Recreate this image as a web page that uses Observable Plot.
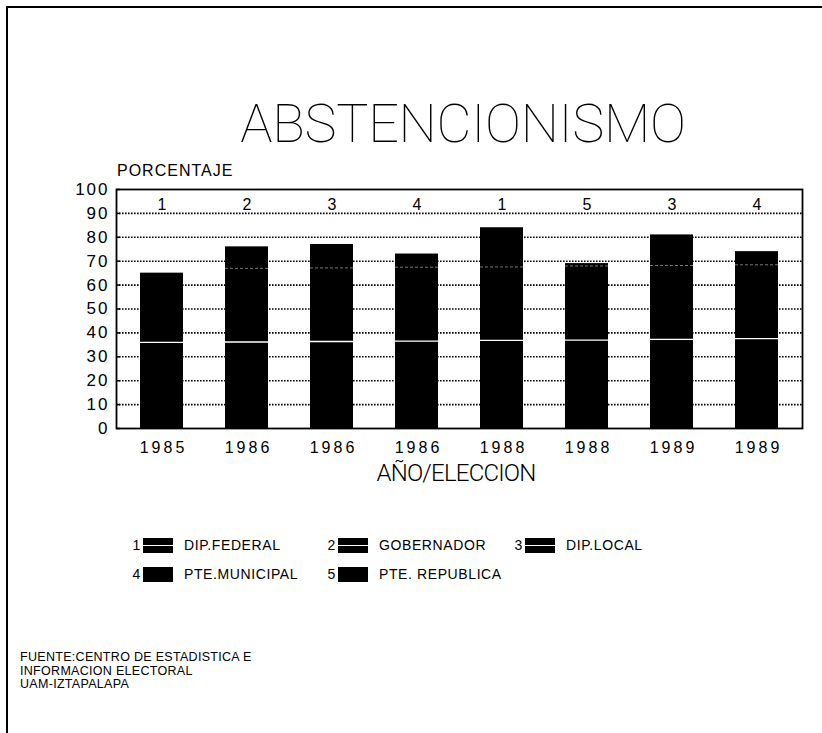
<!DOCTYPE html>
<html>
<head>
<meta charset="utf-8">
<script src="https://cdn.jsdelivr.net/npm/d3@7"></script>
<script src="https://cdn.jsdelivr.net/npm/@observablehq/plot@0.6"></script>
<style>
  html, body { margin: 0; padding: 0; background: #fff; }
  #page { position: relative; width: 822px; height: 733px; overflow: hidden; background: #fff; font-family: "Liberation Sans", "DejaVu Sans", sans-serif; color: #000; }
  #border { position: absolute; left: 6px; top: 6px; right: -4px; bottom: -4px; border-top: 2px solid #000; border-left: 2px solid #000; }
  #chart { position: absolute; left: 0; top: 0; }
  .abs { position: absolute; white-space: nowrap; }
  #title { left: 233px; width: 460px; top: 94px; text-align: center; font-family: Roboto, sans-serif; font-weight: 100; font-size: 54px; line-height: 60px; letter-spacing: -0.3px; }
  #ylab { left: 117px; top: 162px; font-size: 16px; letter-spacing: 1px; }
  #xlab { left: 354px; width: 204px; top: 461px; text-align: center; font-family: Roboto, sans-serif; font-weight: 300; font-size: 24px; line-height: 24px; letter-spacing: -0.8px; }
  .leg { position: absolute; font-size: 14px; letter-spacing: 0.6px; display: flex; align-items: center; }
  .leg .n { width: 10px; text-align: right; margin-right: 2px; }
  .leg .sw { width: 30px; height: 15px; background: #000; position: relative; margin-right: 11px; }
  .leg .sw.line::after { content: ""; position: absolute; left: 0; right: 0; top: 7px; height: 1px; background: #fff; }
  #src { left: 20px; top: 651px; font-size: 12.5px; line-height: 13.5px; letter-spacing: 0.3px; }
</style>
</head>
<body>
<div id="page">
  <div id="border"></div>
  <div id="chart"></div>
  <div class="abs" id="title">ABSTENCIONISMO</div>
  <div class="abs" id="ylab">PORCENTAJE</div>
  <div class="abs" id="xlab">AÑO/ELECCION</div>
  <div id="legend"></div>
  <div class="abs" id="src">FUENTE:CENTRO DE ESTADISTICA E<br>INFORMACION ELECTORAL<br>UAM-IZTAPALAPA</div>
</div>
<script>
// --- data ---
const years = ["1985", "1986", "1986", "1986", "1988", "1988", "1989", "1989"];
const electionType = ["1", "2", "3", "4", "1", "5", "3", "4"];
const abstention = [65, 76, 77, 73, 84, 69, 81, 74];
const lowerLine = [36, 36.2, 36.4, 36.6, 36.9, 37, 37.3, 37.6];
const upperLine = [null, 67, 67.2, 67.5, 67.6, 68, 68.2, 68.5];
const yTicks = [0, 10, 20, 30, 40, 50, 60, 70, 80, 90, 100];
const gridValues = [10, 20, 30, 40, 50, 60, 70, 80, 90];
const legendCodes = ["1", "2", "3", "4", "5"];
const legendNames = ["DIP.FEDERAL", "GOBERNADOR", "DIP.LOCAL", "PTE.MUNICIPAL", "PTE. REPUBLICA"];

const rows = years.map((y, i) => ({
  i, year: y, type: electionType[i], value: abstention[i], lower: lowerLine[i], upper: upperLine[i]
}));
const idx = rows.map(d => d.i);

const chart = Plot.plot({
  width: 822,
  height: 480,
  marginTop: 189,
  marginBottom: 52,
  marginLeft: 116,
  marginRight: 20,
  style: { fontFamily: "'Liberation Sans', 'DejaVu Sans', sans-serif", background: "transparent", color: "#000" },
  x: { type: "band", domain: idx, paddingInner: 0.49, paddingOuter: 0.25, axis: null, label: null },
  y: { domain: [0, 100], axis: null, label: null },
  marks: [
    Plot.ruleY(gridValues, { stroke: "#000", strokeWidth: 1.6, strokeDasharray: "1.6,1.4" }),
    Plot.barY(rows, { x: "i", y: "value", fill: "#000" }),
    Plot.tickY(rows, { x: "i", y: "lower", stroke: "#fff", strokeWidth: 1.3 }),
    Plot.tickY(rows.filter(d => d.upper != null), { x: "i", y: "upper", stroke: "#777", strokeWidth: 1, strokeDasharray: "3,2" }),
    Plot.text(rows, { x: "i", y: 90, text: "type", dy: -9, fontSize: 16, fill: "#000" }),
    Plot.axisY(yTicks, { tickSize: -4, text: null, label: null, stroke: "#000", strokeWidth: 1.5 }),
    Plot.axisY(yTicks, { tickSize: 0, tickPadding: 7, fontSize: 17, fill: "#000", label: null }),
    Plot.axisX(idx, { tickSize: 0, tickPadding: 13, fontSize: 16, fill: "#000", label: null, tickFormat: i => years[i] }),
    Plot.frame({ stroke: "#000", strokeWidth: 1.8 })
  ]
});
// widen the tick label lettering like the original typewriter-style digits
d3.select(chart).selectAll('g[aria-label="y-axis tick label"] text').attr("letter-spacing", "2px");
d3.select(chart).selectAll('g[aria-label="x-axis tick label"] text').attr("letter-spacing", "3px").attr("dx", "1.5");
document.getElementById("chart").appendChild(chart);

// legend
const legendPos = [[131, 537], [326, 537], [513, 537], [131, 566], [326, 566]];
const legend = document.getElementById("legend");
legendCodes.forEach((c, k) => {
  const el = document.createElement("div");
  el.className = "leg";
  el.style.left = legendPos[k][0] + "px";
  el.style.top = legendPos[k][1] + "px";
  el.innerHTML = `<span class="n">${c}</span><span class="sw${k < 3 ? " line" : ""}"></span><span>${legendNames[k]}</span>`;
  legend.appendChild(el);
});
</script>
</body>
</html>
